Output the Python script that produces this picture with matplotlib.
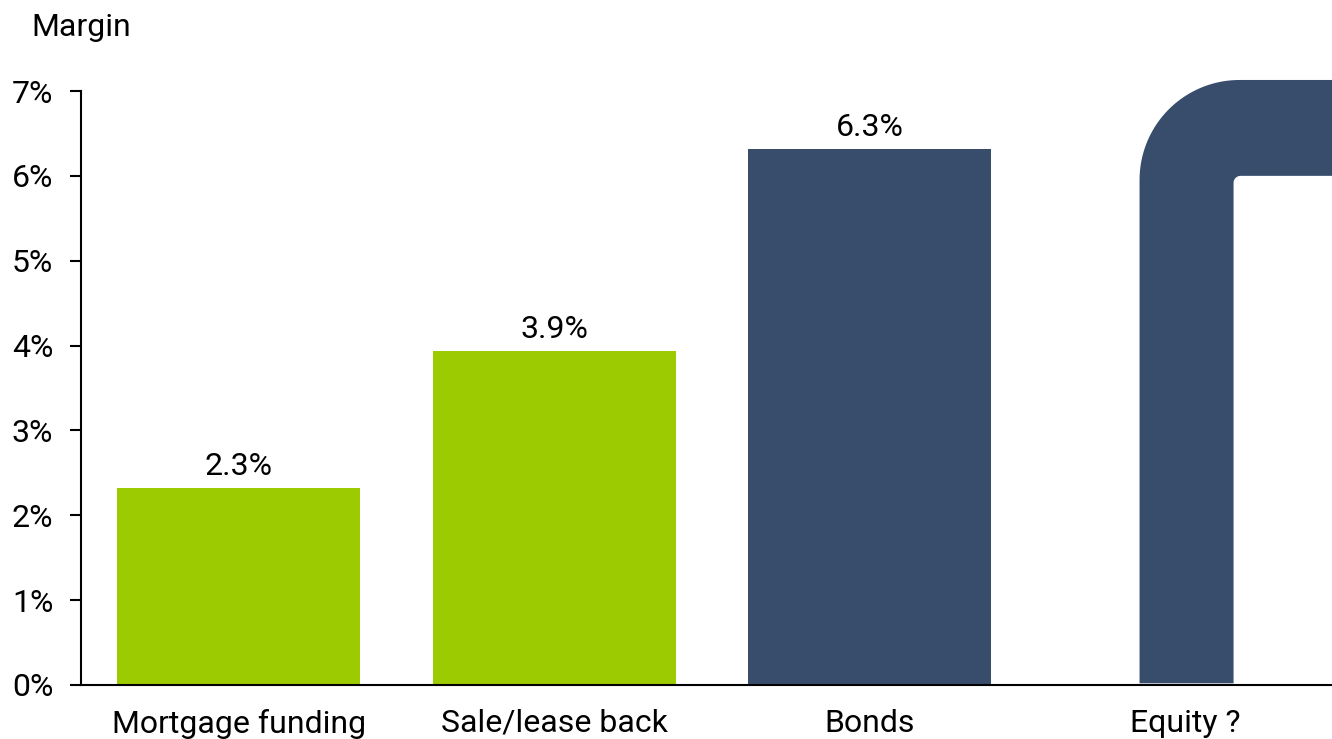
import matplotlib
matplotlib.use("Agg")
import matplotlib.pyplot as plt
import numpy as np
from matplotlib.path import Path
from matplotlib.patches import PathPatch

plt.rcParams['font.family'] = ['Roboto', 'DejaVu Sans']

categories = ["Mortgage funding", "Sale/lease back", "Bonds", "Equity ?"]
margins = [2.32, 3.94, 6.32]          # known margins (%)
bar_colors = ["#9BCB00", "#9BCB00", "#384D6C"]
equity_floor = 6.0                    # equity: open-ended, at least this
equity_top = 7.13
yticks = [0, 1, 2, 3, 4, 5, 6, 7]
navy = "#384D6C"
FS = 23

W, H = 1332, 739
fig = plt.figure(figsize=(W / 100, H / 100), dpi=100)
ax = fig.add_axes([81 / W, (H - 685) / H, (W - 81) / W, (685 - 91) / H])
ax.set_xlim(-0.5, 3.465)
ax.set_ylim(0, 7)

x = np.arange(len(categories))
bw = 0.77
ax.bar(x[:3], margins, width=bw, color=bar_colors, zorder=2)
for xi, v in zip(x[:3], margins):
    ax.annotate(f"{v:.1f}%", (xi, v), xytext=(0, 5), textcoords="offset points",
                ha="center", va="bottom", fontsize=FS)

# Equity: a bent bar rising past 6% and running off to the right
fig.canvas.draw()
px = ax.transData.transform([[0, 0], [1, 1]])
sx = px[1, 0] - px[0, 0]   # pixels per category unit
sy = px[1, 1] - px[0, 1]   # pixels per percentage point
stem_w = 94 / sx
x0 = x[3] + 0.004 - stem_w / 2
x1 = x0 + stem_w
R = 100.0   # outer corner radius (px)
r = 7.0     # inner corner radius (px)
xr = 3.465
verts = [(x0, 0.02)]
for t in np.linspace(np.pi, np.pi / 2, 40):
    verts.append((x0 + R / sx + R / sx * np.cos(t), equity_top - R / sy + R / sy * np.sin(t)))
verts.append((xr, equity_top))
verts.append((xr, equity_floor))
for t in np.linspace(np.pi / 2, np.pi, 10):
    verts.append((x1 + r / sx + r / sx * np.cos(t), equity_floor - r / sy + r / sy * np.sin(t)))
verts.append((x1, 0.02))
verts.append((x0, 0.02))
codes = [Path.MOVETO] + [Path.LINETO] * (len(verts) - 2) + [Path.CLOSEPOLY]
ax.add_patch(PathPatch(Path(verts, codes), facecolor=navy, edgecolor="none",
                       clip_on=False, zorder=2))

ax.set_xticks(x)
ax.set_xticklabels(categories, fontsize=FS)
ax.tick_params(axis="x", length=0, pad=17)
ax.set_yticks(yticks)
ax.set_yticklabels([f"{v}%" for v in yticks], fontsize=FS)
ax.tick_params(axis="y", length=8, width=1.5, pad=12)
for s in ["top", "right"]:
    ax.spines[s].set_visible(False)
ax.spines["left"].set_linewidth(1.5)
ax.spines["bottom"].set_linewidth(1.5)
ax.spines["left"].set_bounds(0, 7)

fig.text(31 / W, 1 - 28 / H, "Margin", fontsize=FS, ha="left", va="center")

fig.savefig("out.png", dpi=100)
